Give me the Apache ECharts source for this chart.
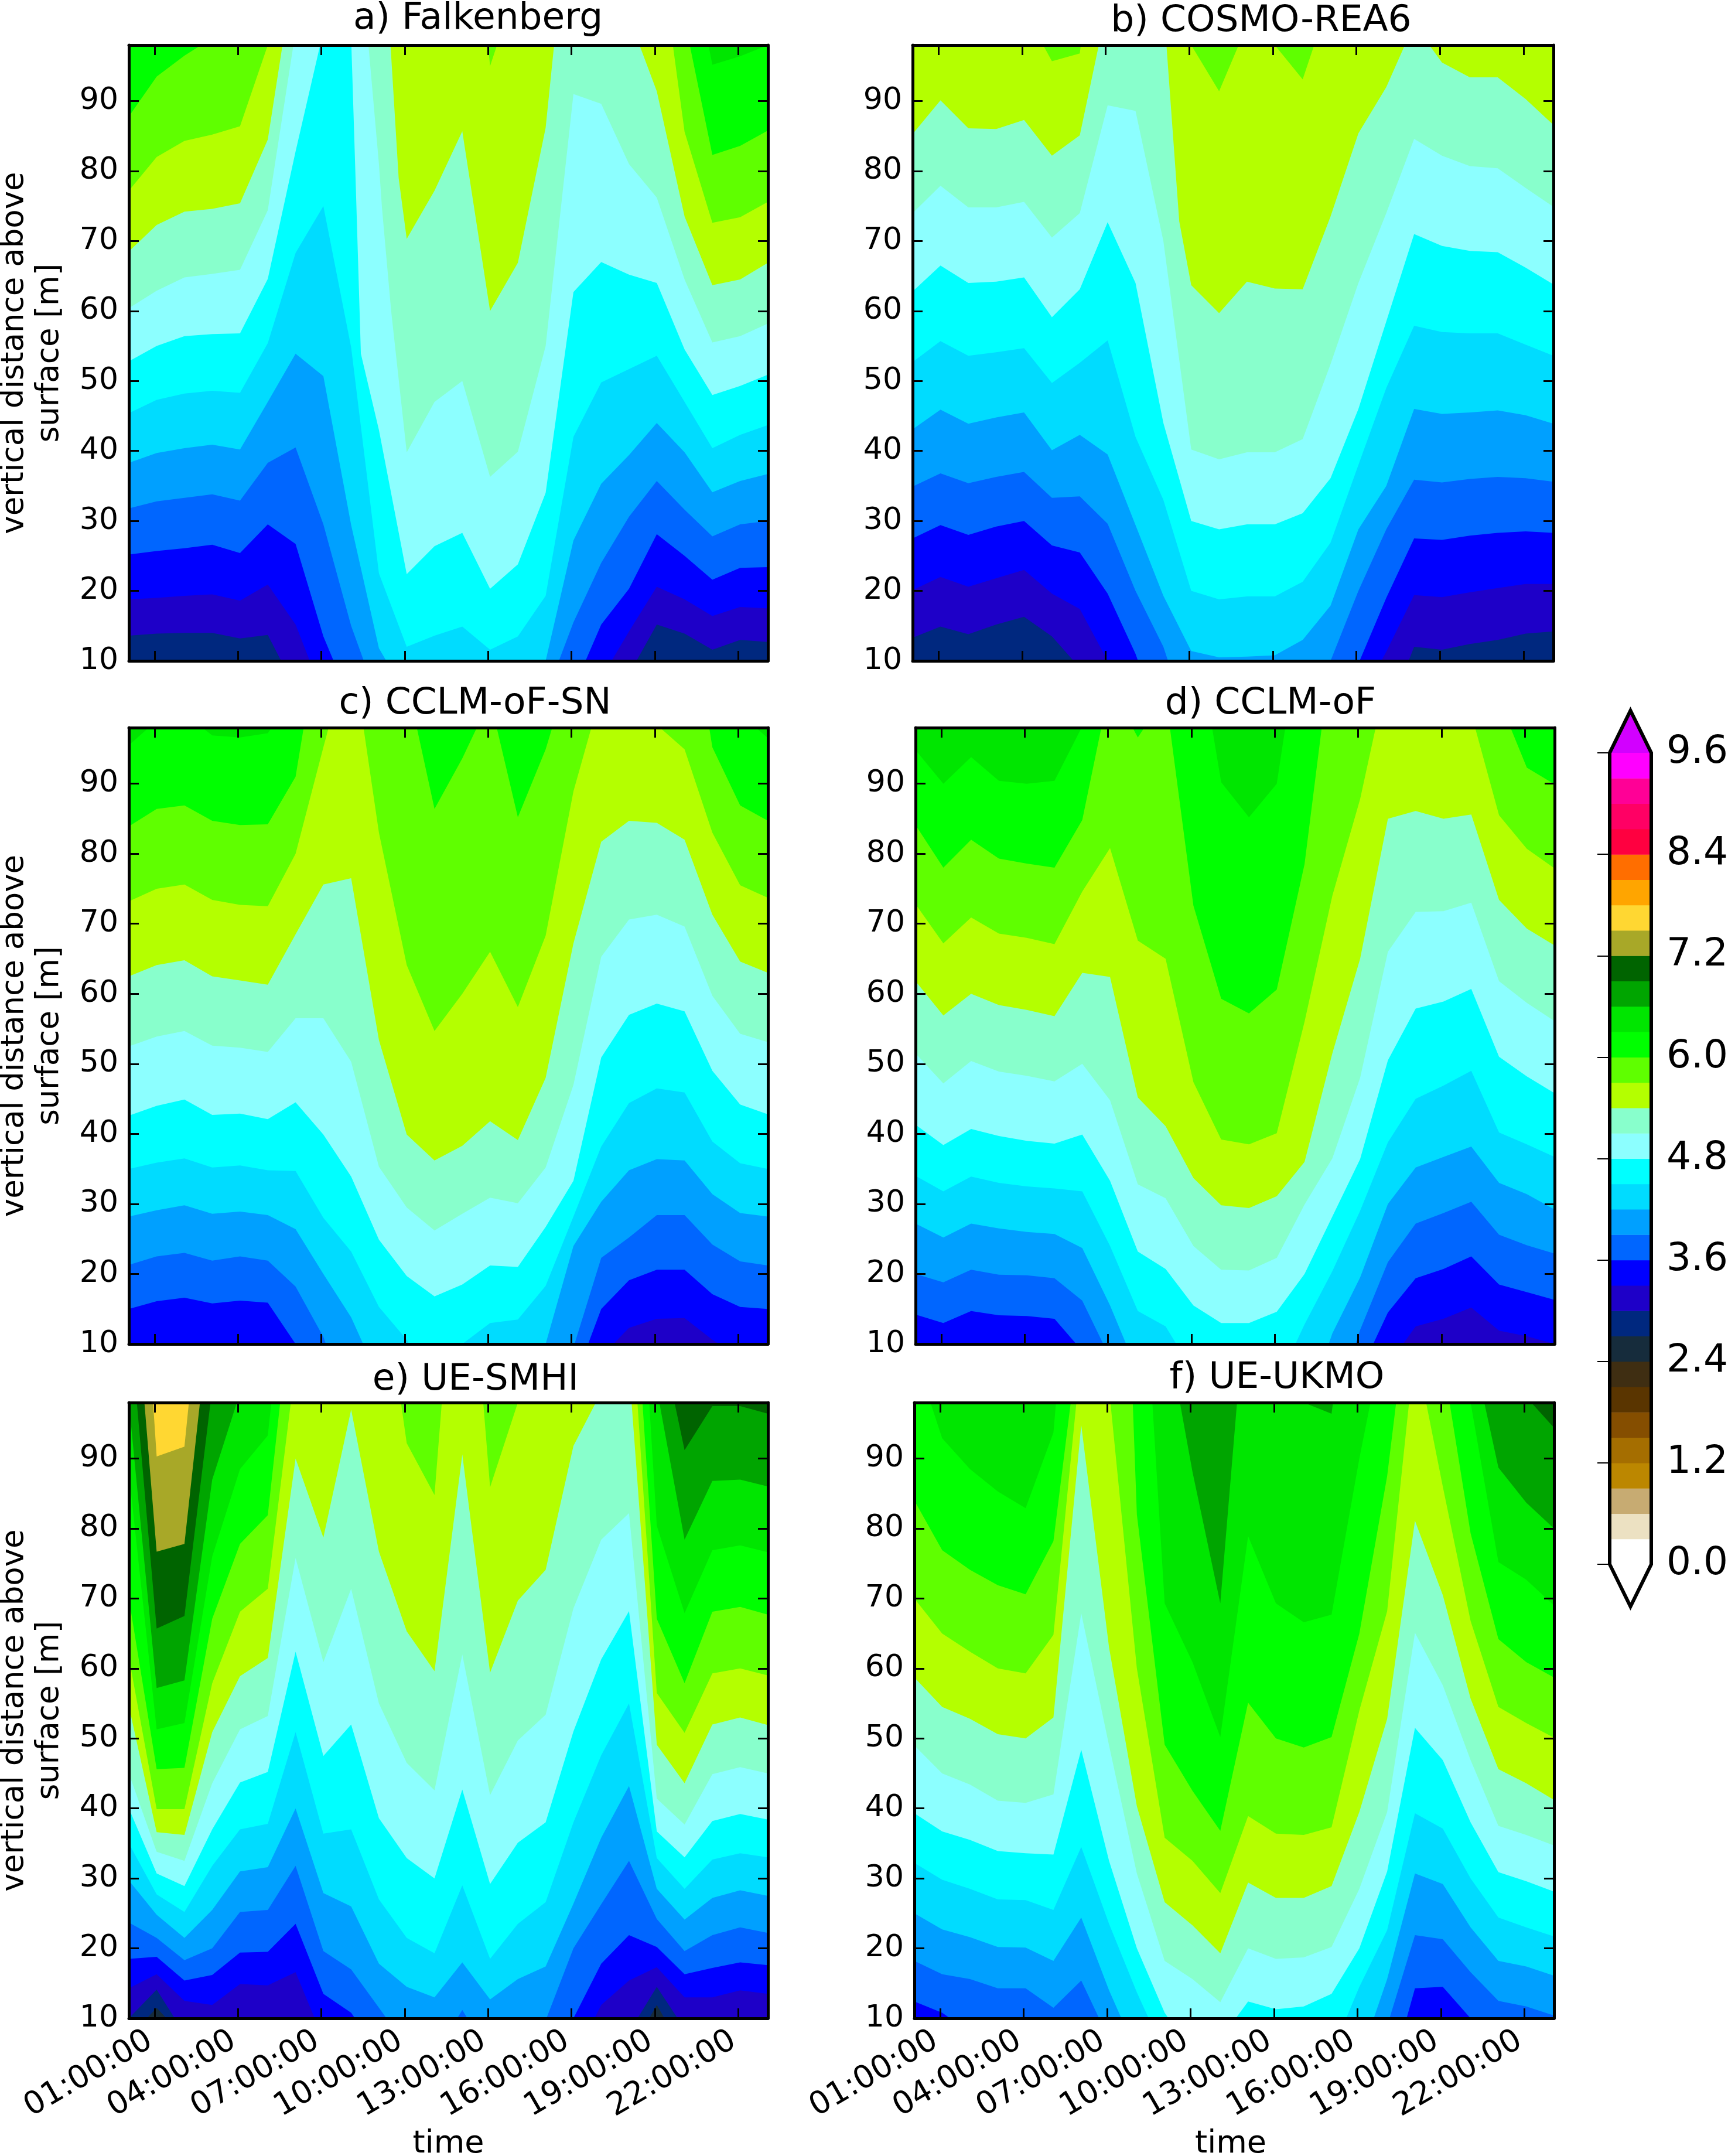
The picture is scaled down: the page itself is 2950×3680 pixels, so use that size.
<!DOCTYPE html>
<html><head><meta charset="utf-8">
<style>html,body{margin:0;padding:0;background:#fff}#c{width:2950px;height:3680px}</style>
<script src="https://cdn.jsdelivr.net/npm/echarts@6/dist/echarts.min.js"></script>
</head><body><div id="c"></div>
<script>
// Hours since midnight of the 24 model outputs
const hours=[0.07,1.07,2.07,3.07,4.07,5.07,6.07,7.07,8.07,9.07,10.07,11.07,12.07,13.07,14.07,15.07,16.07,17.07,18.07,19.07,20.07,21.07,22.07,23.07];
const timeTicks=[1,4,7,10,13,16,19,22];
const heightTicks=[10,20,30,40,50,60,70,80,90];
const windTicks=[0,1.2,2.4,3.6,4.8,6,7.2,8.4,9.6];
// One colour per 0.3 m/s band, 0.0-0.3 first
const bandColors=['#ffffff','#ece1c2','#c7ab72','#bc8700','#a56e00','#854e00','#5a3500','#3f2e12','#162c3c','#00287f','#1e00c8','#0000ff','#0066ff','#00a0ff','#00dcff','#00ffff','#8cffff','#88ffcc','#b4ff00','#5fff00','#00ff00','#00e600','#00a500','#006400','#a8a828','#ffd732','#ffa500','#ff6e00','#ff0040','#ff0064','#ff0096','#ff00ff'];
const overColor='#d200ff';

// Height [m] of each wind-speed isoline at each hour; values outside 10..98 lie off the axes.
// Each list starts at the isoline of firstBand*; the following lists step by 0.3 m/s.
const firstBandA=10; // 3.0
const falkenberg=[
[13.6,13.9,14.0,14.0,13.2,13.7,6,0,0,0,0,0,0,0,0,0,0,0,8.1,15.2,13.9,11.6,13,12.7],
[18.8,19,19.3,19.5,18.6,20.9,15.2,5,0,0,0,0,0,0,0,0,0,7.5,14.2,20.6,18.8,16.4,17.7,17.5],
[25.2,25.7,26.1,26.6,25.4,29.5,26.7,13.5,4,0,0,0,0,0,0,0,6,15.2,20.3,28.1,25,21.6,23.3,23.4],
[31.8,32.8,33.3,33.8,32.9,38.3,40.5,29.5,15,4,0,0,0,0,0,5,15.5,24,30.6,35.7,31.6,27.8,29.5,30],
[38.3,39.7,40.4,40.9,40.2,47,53.9,50.7,29.4,11.8,5,0,0,0,5,10,27.2,35.3,39.4,44,39.8,34.1,35.7,36.7],
[45.4,47.3,48.2,48.6,48.3,55.4,68.3,75,54.8,22.5,12,13.6,14.9,11.6,13.5,19.3,42,49.8,51.7,53.6,47,40.4,42.3,43.7],
[52.8,55,56.4,56.7,56.8,64.6,82.8,100,99,43,22.4,26.4,28.3,20.3,23.8,34,62.7,67,65.2,64,54.5,48,49.3,50.9],
[60.4,62.9,64.8,65.3,65.9,74.4,100,115,126,81,39.8,47,50,36.3,39.9,55,91,89.6,81,76.2,64.5,55.5,56.4,58.2],
[68.5,72.3,74.2,74.6,75.4,84.5,110,120,120,125,70.3,77.2,85.7,60,66.9,86.2,125,120,102,91.4,73.5,63.7,64.5,66.9],
[77.2,82,84.3,85.2,86.4,98,120,130,130,130,130,130,135,95,107,130,130,130,130,115,85.6,72.6,73.4,75.6],
[87.8,93.5,96.5,99,115,130,130,130,130,130,130,130,140,130,130,130,130,130,130,120,101.6,82.3,83.6,85.8],
[130,130,130,130,130,130,130,130,130,130,130,130,140,130,130,130,130,130,130,130,115,95.2,96.4,98]];
// Isoline vertices between the hours: [isoline number, hour, height]
const falkenbergKinks=[[6,8.24,77.5],[6,8.42,53.9],[7,9.18,74.7],[7,9.51,60],[8,9.78,79]];

const firstBandB=10; // 3.0
const cosmoRea6=[
[13.3,14.9,13.8,15.2,16.3,13.5,9,0,0,0,0,0,0,0,0,0,0,2,12,11.6,12.4,13,13.9,14.2],
[20.1,22,20.6,21.8,23,19.6,17.4,10,0,0,0,0,0,0,0,0,4,11.3,19.4,19.1,19.8,20.4,21,21],
[27.5,29.4,28,29.2,30,26.5,25.5,19.6,11,0,0,0,0,0,0,0,9.6,19,27.5,27.3,27.9,28.3,28.5,28.3],
[34.9,36.8,35.4,36.3,37,33.3,33.5,29.6,20,12,0,0,0,0,0,10,20,28.8,35.9,35.5,36,36.3,36.1,35.6],
[43.1,45.9,43.9,44.8,45.5,40.1,42.3,39.5,29.4,19.3,11.4,10.5,10.6,10.8,13,17.9,28.8,35,46,45.3,45.5,45.8,45.1,43.9],
[52.7,55.7,53.6,54.1,54.7,49.7,52.6,55.8,42,33,20,18.8,19.2,19.2,21.3,26.9,38,49,57.9,57,56.8,56.8,55.2,53.6],
[62.8,66.5,64,64.2,64.8,59.1,63.1,72.7,64,44,30,28.8,29.5,29.5,31.1,36.1,46,58.5,71,69.3,68.6,68.4,66.2,63.8],
[74,77.9,74.8,74.8,75.6,70.5,74,89.4,88.6,70,40.2,38.8,39.8,39.8,41.7,52.4,64,74,84.6,82.2,80.7,80.4,77.6,74.9],
[85.3,90.1,86.1,86,87.3,82.2,85.1,104,110,104,63.7,59.7,64.2,63.2,63.1,73.5,85.4,92,101,95.5,93.4,93.4,90.3,86.6],
[120,120,120,120,103,95.7,96.8,130,130,130,98,91.4,100.8,98,93.1,105,125,125,125,125,125,125,125,125]];
const cosmoRea6Kinks=[[8,9.64,72.8]];

const firstBandC=11; // 3.3
const cclmOfSn=[
[5,5,5,5,5,5,5,5,5,5,5,5,5,5,5,5,5,8.2,12.3,13.6,13.7,10.6,8,8],
[15,16.1,16.6,15.8,16.2,15.9,10,0,0,0,0,0,0,0,0,0,4.4,15,19.1,20.6,20.6,17.1,15.3,15],
[21.3,22.5,23,21.9,22.5,21.9,18.2,11,0,0,0,0,0,0,0,0,9.5,22.3,25.2,28.4,28.4,24.2,21.8,21.2],
[28.2,29.1,29.8,28.6,28.9,28.4,26.4,20,13.8,5,0,0,0,0,0,10,24,30.3,34.8,36.4,36.2,31.4,28.7,28.2],
[35,35.9,36.5,35.2,35.5,34.8,34.7,28,23.2,15.3,10.6,4,10,13,13.5,18.3,28.2,38.2,44.4,46.5,45.9,38.9,35.8,35],
[42.6,44,44.9,42.7,42.9,42.1,44.5,39.9,33.9,24.9,19.7,16.8,18.5,21.2,21,26.7,33.3,50.9,57,58.6,57.5,49,44.2,42.8],
[52.5,53.9,54.7,52.6,52.3,51.7,56.5,56.5,50.3,35.3,29.5,26.2,28.6,30.9,30.1,35.2,47,65.3,70.6,71.3,69.6,59.7,54.3,53.1],
[62.5,64.1,64.8,62.5,61.9,61.3,68.5,75.6,76.5,53.4,39.9,36.2,38.3,41.8,39.1,48,67.2,81.7,84.7,84.4,82,71.3,64.6,63],
[73.2,75,75.6,73.4,72.7,72.5,80,95.2,110,83,64.1,54.7,60,66,58.1,68.3,88.9,103,115,98.4,94.9,83,75.5,73.7],
[83.9,86.4,86.9,84.7,84.1,84.2,91,115,125,125,104.6,86.4,93.6,102,85.2,94.9,108,130,130,130,120,95.2,86.9,84.7],
[95.5,99,100,96.9,96.6,97.2,103,130,130,130,130,130,130,130,130,130,130,130,130,130,130,130,100,96.5]];

const firstBandD=11; // 3.3
const cclmOf=[
[5,5,5,5,5,5,5,5,5,5,5,5,5,5,5,5,5,7,12.5,13.6,15.2,11.9,11.1,10],
[14.2,13,14.7,14.1,14,13.6,9,0,0,0,0,0,0,0,0,0,6,14.5,19.4,20.7,22.5,18.5,17.4,16.3],
[20,18.8,20.6,19.9,19.8,19.4,16.2,8,0,0,0,0,0,0,0,0,12,21.7,27.2,28.7,30.3,25.6,24.1,22.9],
[27.2,25.2,27.2,26.5,26,25.7,23.7,15.5,6,0,0,0,0,0,0,11.5,19.5,30,35.2,36.7,38.2,33,31.4,29.2],
[34,31.8,33.9,33,32.5,32.2,31.8,24,14.7,12.5,6,0,0,4.3,12.8,20.4,29,38.8,45,46.9,49,40.2,38.5,36.7],
[41.3,38.4,40.7,39.7,39,38.6,39.9,33.3,23.2,20.7,15.5,13,13,14.6,20,28.2,36.4,50.5,57.9,58.9,60.7,51,48.2,45.8],
[51.5,47.2,50.4,48.9,48.3,47.5,50,44.8,32.8,30.8,24,20.6,20.5,22.3,29.9,36.5,48,66,71.7,71.8,73,61.8,58.7,56.1],
[61.8,56.9,60,58.4,57.7,56.8,63,62.4,45.2,41.1,33.7,29.8,29.4,31.1,36,51.5,65,85,86.1,85,85.6,73.4,69.3,66.9],
[72.8,67.2,70.9,68.6,68,67.1,74.6,80.8,67.6,65,47.4,39.2,38.5,40.1,56,74,87.8,106,120,120,100,85.5,80.7,77.9],
[84.1,78,82,79.3,78.6,78,84.8,104,96.6,102.6,72.6,59.3,57.2,60.6,78.5,110,125,125,125,125,130,102,92.3,89.9],
[94.8,90,93.8,90.4,90,90.4,98.2,120,130,130,114,90.2,85.2,90,116,130,130,130,130,130,130,130,130,130]];

const firstBandE=9; // 2.7
const ueSmhi=[
[7.2,11.5,7.2,0,0,0,0,0,0,0,0,0,0,0,0,0,0,0,5,11.9,5,0,0,0],
[10,14.1,7.8,9,9.5,9.5,9.9,0,0,0,0,0,0,0,0,0,0,0,8,14.5,8.5,8,8,8],
[14.3,16.3,12.5,11.9,14.9,14.7,16.6,7,0,0,0,0,0,0,0,0,4,11.9,15.4,17.3,13,13,14,13.5],
[18.5,18.8,15.4,16.2,19.4,19.5,23.5,13.5,10.8,5,0,0,0,0,0,0,10,17.8,21.9,20.2,16.3,17.2,18,17.6],
[23.7,21.5,18.3,20,25.2,25.5,31.8,19.6,17,11.5,6,4.6,11.2,4.6,3,9.7,20,26.3,32.5,24.2,19.6,21.9,23,22.2],
[29.7,24.8,21.5,25.5,31,31.6,40,27.9,26,17.8,14.5,13,18,12.7,15.6,17.4,26.4,35.8,43.2,28.5,24.1,27.2,28.3,27.5],
[35,27.7,25.2,31.8,37,37.8,50.9,36.4,37,27,21.5,19.3,29,18.5,23.5,26.6,38,47.6,55,32.9,28.5,32.7,33.6,33],
[40,30.7,28.9,37,43.7,45.2,62.4,47.5,52,38.6,32.9,30,42.7,29.2,35.1,38,51,61.3,68.2,36.7,33,38.2,39.2,38.4],
[45,33.8,32.5,43.6,51.3,53.2,75.8,60.9,71.4,55,46.5,42.6,62,41.9,49.7,53.4,68.6,78.4,82.2,41.4,37.7,44.9,45.9,45],
[54.6,36.6,36.2,50.9,58.9,61.5,90,78.7,97,76.7,65.3,59.6,90.6,59.4,69.7,74.1,91.8,99.5,103,49.1,43.6,52,53,51.9],
[61.6,39.9,39.9,57.9,68.1,71.4,103.5,130,130,120,92.2,84.8,135,85.9,98,110,130,130,116,56.5,50.8,59.3,60,59],
[70,45.6,45.8,67.1,77.8,81.9,118,140,140,140,140,140,140,140,140,140,140,140,127,67.1,57.9,68.1,68.8,67.7],
[88,51.3,52.2,76,88.5,93.3,130,150,150,150,150,150,150,150,150,150,150,150,145,80.4,67.9,76.9,77.6,76.6],
[98,57.2,58.3,87,99.4,130,150,160,160,160,160,160,160,160,160,160,160,160,160,100,78.4,86.8,87,86],
[111,65.7,67.5,100,130,150,160,170,170,170,170,170,170,170,170,170,170,170,170,110,91.2,97.5,97.5,96.4],
[125,76.7,77.8,114,140,160,170,180,180,180,180,180,180,180,180,180,180,180,180,130,120,130,130,130],
[150,90.3,91.7,131,150,170,180,190,190,190,190,190,190,190,190,190,190,190,190,140,140,140,140,140]];

const firstBandF=12; // 3.6
const ueUkmo=[
[12.4,10.8,8,0,0,0,0,0,0,0,0,0,0,0,0,0,0,0,14.3,14.5,10,5,0,0],
[18.2,16.3,15.6,14.3,14.3,11.5,15.4,7,0,0,0,0,0,0,0,0,0,8.9,21.9,21.3,16.6,12.5,11.7,10.4],
[25,22.7,21.6,20.2,20.1,18.2,24.4,14,5,0,0,0,0,0,0,0,4,15.6,30.7,29.2,23,18.2,17.4,16.1],
[32.2,29.8,28.5,27,26.9,25.5,34.5,23.5,13.7,5,0,0,0,0,0,5,14.5,22.6,39.3,37.1,30,24.4,23,21.7],
[39.3,36.7,35.5,33.9,33.6,33.4,48.4,32.5,20,10.8,5,7,12.4,11.3,11.7,13.5,20,31,51.5,46.9,38,30.9,29.6,28.1],
[49,45,43.4,41.1,40.8,42,67.9,49,30.7,18.2,15.6,12.3,20,18.5,18.7,20.2,28.5,39.5,65.1,57.6,46.9,37.5,36.2,34.7],
[58.7,54.5,52.8,50.6,50,53,94.8,63,40.3,26.6,23.3,19.3,29.4,27.2,27.2,28.9,39.5,52.8,81.1,70.5,55.7,45.6,43.6,41.2],
[70,65,62.4,60,59.3,64.8,105,100,60,35.8,32.5,27.9,38.9,36.4,36.2,37.3,54,68.2,106,86,66.8,54.5,52.2,50.1],
[84,76.9,74.1,71.9,70.6,78.2,110,190,82,49.1,42.5,36.8,55.1,50,48.7,50.2,65,87.5,120,104,79.3,64.2,60.9,58.7],
[105,92.9,88.5,85.3,82.9,93.7,140,170,134,69.3,60.9,50.2,78.9,69.3,66.6,67.7,90,110,125,120,98,75.2,72.7,69],
[130,130,130,130,130,130,130,130,130,110,88.1,69.3,117,130,98,96.4,126,130,130,130,107,88.7,83.7,80],
[140,140,140,140,140,140,140,140,140,140,140,140,140,140,140,140,140,140,140,140,140,140,98.8,94.4]];

const FONT='DejaVu Sans';
const layout=[
 {title:'a) Falkenberg',heights:falkenberg,kinks:falkenbergKinks,first:firstBandA,left:220,top:77,width:1091,height:1051,tx:811,ty:28,yName:true,xLabels:false,nameShift:0},
 {title:'b) COSMO-REA6',heights:cosmoRea6,kinks:cosmoRea6Kinks,first:firstBandB,left:1558,top:77,width:1094,height:1051,tx:2148,ty:32,yName:false,xLabels:false,nameShift:0},
 {title:'c) CCLM-oF-SN',heights:cclmOfSn,kinks:[],first:firstBandC,left:220,top:1242,width:1091,height:1052,tx:806,ty:1197,yName:true,xLabels:false,nameShift:0},
 {title:'d) CCLM-oF',heights:cclmOf,kinks:[],first:firstBandD,left:1563,top:1242,width:1091,height:1052,tx:2164,ty:1197,yName:false,xLabels:false,nameShift:0},
 {title:'e) UE-SMHI',heights:ueSmhi,kinks:[],first:firstBandE,left:220,top:2394,width:1091,height:1051,tx:807,ty:2351,yName:true,xLabels:true,nameShift:0},
 {title:'f) UE-UKMO',heights:ueUkmo,kinks:[],first:firstBandF,left:1561,top:2394,width:1092,height:1051,tx:2175,ty:2348,yName:false,xLabels:true,nameShift:12}
];
const hh=v=>String(Math.round(v)).padStart(2,'0')+':00:00';
const line={color:'#000',width:5};
const tick={color:'#000',width:3};
const grids=[],xAxes=[],yAxes=[],series=[],titles=[];
layout.forEach((p,i)=>{
  grids.push({left:p.left,top:p.top,width:p.width,height:p.height,outerBoundsMode:'none',show:true,borderWidth:0,backgroundColor:bandColors[p.first-1]});
  titles.push({text:p.title,left:p.tx,top:p.ty,textAlign:'center',textVerticalAlign:'middle',textStyle:{fontFamily:FONT,fontSize:63,fontWeight:'normal',color:'#000'}});
  const xBase={gridIndex:i,type:'value',min:hours[0],max:hours[23],z:50,splitLine:{show:false},axisLine:{onZero:false,lineStyle:line},axisTick:{inside:true,length:17,lineStyle:tick,customValues:timeTicks}};
  xAxes.push(Object.assign({},xBase,{position:'bottom',name:p.xLabels?'time':'',nameLocation:'middle',nameGap:188,nameTextStyle:{fontFamily:FONT,fontSize:54,color:'#000',padding:[0,p.nameShift,0,0]},
    axisLabel:{show:p.xLabels,customValues:timeTicks,rotate:30,margin:30,padding:[0,9,0,0],formatter:hh,fontFamily:FONT,fontSize:54,color:'#000'}}));
  xAxes.push(Object.assign({},xBase,{position:'top',axisLabel:{show:false}}));
  const yBase={gridIndex:i,type:'value',min:10,max:98,z:50,splitLine:{show:false},axisLine:{onZero:false,lineStyle:line},axisTick:{inside:true,length:17,lineStyle:tick,customValues:heightTicks}};
  yAxes.push(Object.assign({},yBase,{position:'left',name:p.yName?'vertical distance above\nsurface [m]':'',nameLocation:'middle',nameRotate:90,nameGap:105,nameTextStyle:{fontFamily:FONT,fontSize:53,lineHeight:60,color:'#000'},
    axisLabel:{customValues:heightTicks,margin:18,padding:[8,0,0,0],fontFamily:FONT,fontSize:52,color:'#000'}}));
  yAxes.push(Object.assign({},yBase,{position:'right',axisLabel:{show:false}}));
  p.heights.forEach((h,j)=>{
    const pts=hours.map((t,k)=>[t,h[k]]).concat(p.kinks.filter(q=>q[0]===j).map(q=>[q[1],q[2]])).sort((a,b)=>a[0]-b[0]);
    series.push({type:'line',xAxisIndex:i*2,yAxisIndex:i*2,data:pts,showSymbol:false,symbol:'none',silent:true,animation:false,clip:true,z:2+j,
      lineStyle:{width:0},areaStyle:{origin:'end',color:bandColors[p.first+j],opacity:1}});
  });
});
// Colour bar
const cb=layout.length,cbExt=0.5;
const cbEdges=bandColors.map((_,i)=>+(i*0.3).toFixed(1)).concat([9.6]);
grids.push({left:2748,top:1285,width:71,height:1385,outerBoundsMode:'none',show:false});
xAxes.push({gridIndex:cb,type:'value',min:0,max:1,show:false});
xAxes.push({gridIndex:cb,type:'value',min:0,max:1,show:false});
yAxes.push({gridIndex:cb,type:'value',position:'right',min:0,max:9.6,z:50,splitLine:{show:false},axisLine:{show:false},
  axisTick:{inside:true,length:21,lineStyle:{color:'#000',width:2},customValues:windTicks},
  axisLabel:{customValues:windTicks,margin:26,formatter:v=>v.toFixed(1),fontFamily:FONT,fontSize:66,color:'#000'}});
yAxes.push({gridIndex:cb,type:'value',min:0,max:9.6,show:false});
const cbIdx={xAxisIndex:cb*2,yAxisIndex:cb*2,clip:false,silent:true,animation:false};
series.push(Object.assign({type:'custom',z:2,data:bandColors.map((c,i)=>[i]),renderItem:(q,api)=>{
  const i=api.value(0),a=api.coord([0,cbEdges[i]]),b=api.coord([1,cbEdges[i+1]]);
  return {type:'rect',shape:{x:a[0],y:b[1],width:b[0]-a[0],height:a[1]-b[1]+0.5},style:{fill:bandColors[i]}};
}},cbIdx));
series.push(Object.assign({type:'custom',z:3,data:[[0]],renderItem:(q,api)=>{
  const P=(x,y)=>api.coord([x,y]);
  return {type:'group',children:[
    {type:'polygon',shape:{points:[P(0,9.6),P(0.5,9.6+cbExt),P(1,9.6)]},style:{fill:overColor}},
    {type:'polygon',shape:{points:[P(0,0),P(0.5,-cbExt),P(1,0)]},style:{fill:bandColors[0]}},
    {type:'polygon',shape:{points:[P(0,0),P(0.5,-cbExt),P(1,0),P(1,9.6),P(0.5,9.6+cbExt),P(0,9.6)]},style:{fill:'none',stroke:'#000',lineWidth:6,lineJoin:'miter'}}
  ]};
}},cbIdx));
const chart=echarts.init(document.getElementById('c'),null,{renderer:'canvas'});
chart.setOption({animation:false,backgroundColor:'#fff',title:titles,grid:grids,xAxis:xAxes,yAxis:yAxes,series:series});
</script></body></html>
